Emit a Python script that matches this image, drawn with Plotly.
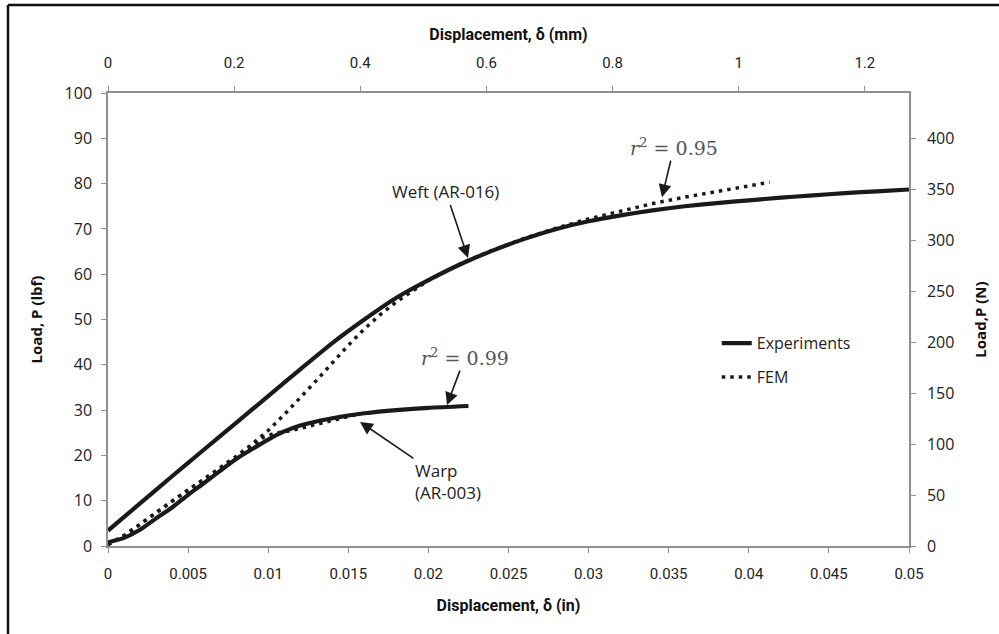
import plotly.graph_objects as go

# ---------------- data ----------------
weft_exp_x = [0, 0.002, 0.004, 0.006, 0.008, 0.010, 0.012, 0.014, 0.016, 0.018, 0.020,
              0.022, 0.024, 0.026, 0.028, 0.030, 0.032, 0.034, 0.036, 0.038, 0.040,
              0.042, 0.044, 0.046, 0.048, 0.050]
weft_exp_y = [3.4, 9.4, 15.4, 21.3, 27.2, 33.1, 39.0, 44.8, 50.0, 54.8, 58.7,
              62.2, 65.2, 67.8, 70.0, 71.7, 73.0, 74.1, 75.0, 75.7, 76.3,
              76.9, 77.4, 77.9, 78.3, 78.7]

weft_fem_x = [0, 0.001, 0.002, 0.003, 0.004, 0.005, 0.006, 0.007, 0.008, 0.009, 0.010,
              0.011, 0.012, 0.013, 0.014, 0.015, 0.016, 0.017, 0.018, 0.019, 0.020,
              0.022, 0.024, 0.026, 0.028, 0.030, 0.032, 0.034, 0.036, 0.038, 0.040, 0.0413]
weft_fem_y = [0.3, 2.3, 4.8, 7.4, 10.0, 12.4, 14.8, 17.2, 19.8, 22.5, 25.5,
              29.0, 32.7, 36.5, 40.4, 44.3, 47.9, 51.1, 53.9, 56.3, 58.6,
              62.3, 65.3, 67.9, 70.2, 72.2, 74.0, 75.6, 77.0, 78.3, 79.5, 80.3]

warp_exp_x = [0, 0.001, 0.002, 0.003, 0.004, 0.005, 0.006, 0.007, 0.008, 0.009, 0.010,
              0.011, 0.012, 0.013, 0.014, 0.015, 0.016, 0.018, 0.020, 0.0225]
warp_exp_y = [0.8, 1.8, 3.6, 6.1, 8.5, 11.3, 13.9, 16.6, 19.2, 21.4, 23.5,
              25.3, 26.6, 27.5, 28.2, 28.8, 29.3, 30.0, 30.5, 30.9]

warp_fem_x = [0, 0.001, 0.002, 0.003, 0.004, 0.005, 0.006, 0.007, 0.008, 0.009, 0.0097,
              0.0104, 0.0112, 0.0118, 0.0124, 0.0130, 0.0137, 0.0143, 0.0149, 0.0155]
warp_fem_y = [0.3, 2.3, 4.8, 7.4, 9.9, 12.3, 14.6, 16.9, 19.4, 22.0, 24.0,
              24.9, 25.3, 25.8, 26.3, 26.9, 27.4, 28.0, 28.5, 29.0]

x_in_vals = [0, 0.005, 0.01, 0.015, 0.02, 0.025, 0.03, 0.035, 0.04, 0.045, 0.05]
x_in_text = ["0", "0.005", "0.01", "0.015", "0.02", "0.025", "0.03", "0.035", "0.04", "0.045", "0.05"]
x_mm_vals = [0, 0.2, 0.4, 0.6, 0.8, 1.0, 1.2]
x_mm_text = ["0", "0.2", "0.4", "0.6", "0.8", "1", "1.2"]
y_lbf_vals = [0, 10, 20, 30, 40, 50, 60, 70, 80, 90, 100]
y_n_vals = [0, 50, 100, 150, 200, 250, 300, 350, 400]

X_MAX_IN = 0.05
X_MAX_MM = 1.27
Y_MAX_LBF = 100
Y_MAX_N = 444.8

# ---------------- styles ----------------
INK = "#1a1a1a"
AXIS = "#8f8f8f"
TICKFONT_X = dict(family="Roboto, Open Sans, DejaVu Sans", size=15, color="#222")
TICKFONT_Y = dict(family="Open Sans, DejaVu Sans", size=16, color="#222")
TITLEFONT_X = dict(family="Roboto, Open Sans, DejaVu Sans", size=16, color="#111", weight="bold")
TITLEFONT_Y = dict(family="Open Sans, DejaVu Sans", size=15, color="#111", weight="bold")
ANNFONT = dict(family="Open Sans, DejaVu Sans", size=17, color="#222")
RFONT = dict(family="DejaVu Serif, Liberation Serif", size=19, color="#555")

solid = dict(color=INK, width=4.2, shape="spline", smoothing=0.6)
dotted = dict(color=INK, width=3.5, dash="3.5px,5px")

fig = go.Figure()
fig.add_trace(go.Scatter(x=weft_exp_x, y=weft_exp_y, mode="lines", line=solid,
                         name="Experiments", legendgroup="exp", showlegend=True))
fig.add_trace(go.Scatter(x=warp_exp_x, y=warp_exp_y, mode="lines", line=solid,
                         name="Experiments", legendgroup="exp", showlegend=False))
fig.add_trace(go.Scatter(x=weft_fem_x, y=weft_fem_y, mode="lines", line=dotted,
                         name="FEM", legendgroup="fem", showlegend=True))
fig.add_trace(go.Scatter(x=warp_fem_x, y=warp_fem_y, mode="lines", line=dotted,
                         name="FEM", legendgroup="fem", showlegend=False))
# secondary axes (mm / N) carry no marks
fig.add_trace(go.Scatter(x=[None], y=[None], xaxis="x2", yaxis="y2", mode="lines",
                         showlegend=False, hoverinfo="skip"))

common_axis = dict(showline=True, linecolor=AXIS, linewidth=1.5, ticks="outside",
                   ticklen=5, tickwidth=1.2, tickcolor=AXIS, showgrid=False, zeroline=False)

fig.update_layout(
    width=999, height=634,
    margin=dict(l=108, r=90, t=93, b=88),
    paper_bgcolor="white", plot_bgcolor="white",
    xaxis=dict(range=[0, X_MAX_IN], tickvals=x_in_vals, ticktext=x_in_text,
               tickfont=TICKFONT_X, ticklabelstandoff=8,
               title=dict(text="Displacement, δ (in)", font=TITLEFONT_X, standoff=18),
               **common_axis),
    xaxis2=dict(range=[0, X_MAX_MM], tickvals=x_mm_vals, ticktext=x_mm_text,
                overlaying="x", side="top", anchor="y", tickfont=TICKFONT_X,
                ticklabelstandoff=12,
                title=dict(text="Displacement, δ (mm)", font=TITLEFONT_X, standoff=10),
                **common_axis),
    yaxis=dict(range=[0, Y_MAX_LBF], tickvals=y_lbf_vals, tickfont=TICKFONT_Y,
               ticklabelstandoff=6,
               title=dict(text="Load, P (lbf)", font=TITLEFONT_Y, standoff=18),
               **common_axis),
    yaxis2=dict(range=[0, Y_MAX_N], tickvals=y_n_vals, overlaying="y", side="right",
                anchor="x", tickfont=TICKFONT_Y, ticklabelstandoff=8,
                title=dict(text="Load,P (N)", font=TITLEFONT_Y, standoff=22),
                **common_axis),
    legend=dict(x=0.76, y=0.485, xanchor="left", yanchor="top",
                font=dict(family="Open Sans, DejaVu Sans", size=16, color="#222"),
                bgcolor="rgba(0,0,0,0)", tracegroupgap=10, traceorder="grouped"),
    showlegend=True,
)

# outer frame (top and left edges visible in the reference)
fig.add_shape(type="line", xref="paper", yref="paper",
              x0=(8 - 108) / 801, x1=(8 - 108) / 801, y0=-0.2, y1=(546 - 5) / 453,
              line=dict(color="#111", width=2.5))
fig.add_shape(type="line", xref="paper", yref="paper",
              x0=(8 - 108) / 801, x1=1.2, y0=(546 - 5) / 453, y1=(546 - 5) / 453,
              line=dict(color="#111", width=2.5))

arrow = dict(showarrow=True, arrowhead=2, arrowsize=1.6, arrowwidth=1.6, arrowcolor=INK,
             axref="pixel", ayref="pixel")
fig.add_annotation(x=0.02247, y=63.6, text="Weft (AR-016)", ax=-22, ay=-66, font=ANNFONT, **arrow)
fig.add_annotation(x=0.01573, y=27.4, text="Warp<br>(AR-003)", ax=88, ay=60, align="left",
                   font=ANNFONT, **arrow)
fig.add_annotation(x=0.03458, y=77.0, text="<i>r</i><sup>2</sup> = 0.95", ax=12, ay=-50,
                   font=RFONT, **arrow)
fig.add_annotation(x=0.02116, y=31.1, text="<i>r</i><sup>2</sup> = 0.99", ax=18, ay=-48,
                   font=RFONT, **arrow)

fig.write_html("out.html")
